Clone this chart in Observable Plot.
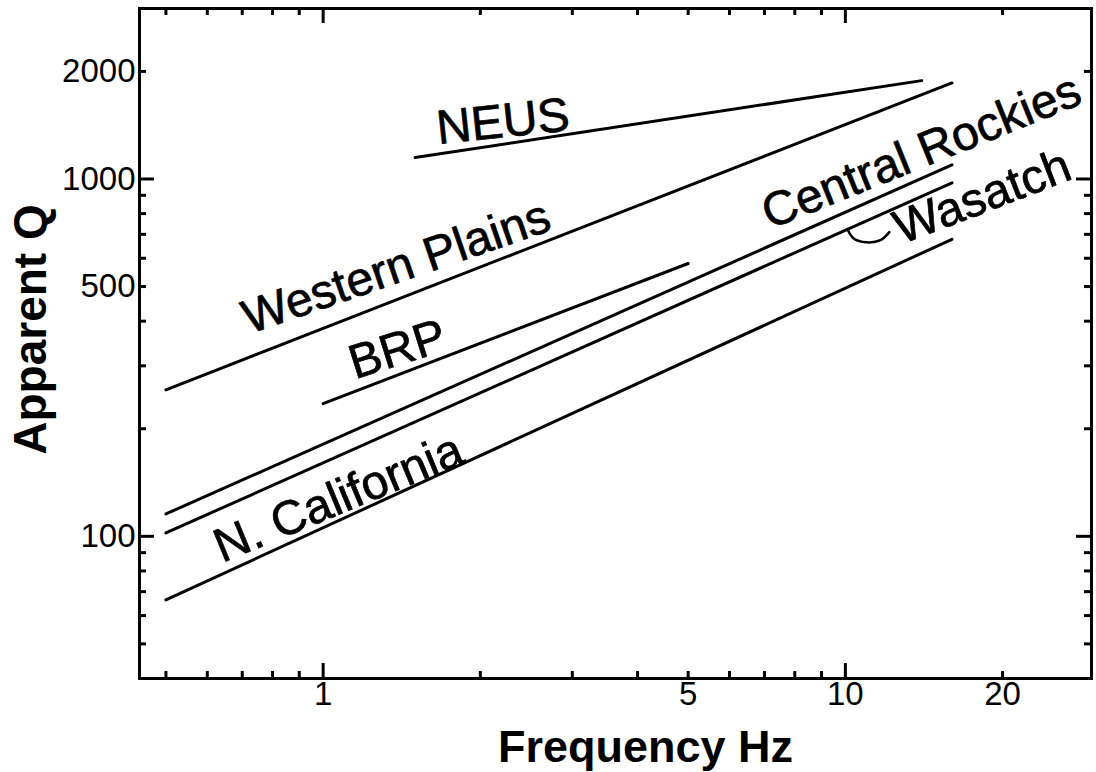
<!DOCTYPE html>
<html>
<head>
<meta charset="utf-8">
<script src="https://cdn.jsdelivr.net/npm/d3@7"></script>
<script src="https://cdn.jsdelivr.net/npm/@observablehq/plot@0.6"></script>
<style>
  html, body { margin: 0; padding: 0; background: #fff; }
  svg { display: block; }
</style>
</head>
<body>
<div id="chart"></div>
<script>
// ---- Data (frequency in Hz, apparent Q) ----
const regions   = ["NEUS", "Western Plains", "BRP", "Central Rockies", "Wasatch", "N. California"];
const freqStart = [1.5,   0.5,   1.0,   0.5,   0.5,   0.5];
const freqEnd   = [14,    16,    5.0,   16,    16,    16];
const qStart    = [1148,  257,   235,   115.5, 102.2, 66.4];
const qEnd      = [1885,  1857,  580,   1095,  976,   678];

// Region label placement (data coordinates) and text angle
const labelFreq  = [2.21, 1.381, 1.388, 13.98, 18.3, 1.07];
const labelQ     = [1446, 566,   333,   1191,  890,  127.8];
const labelAngle = [-6,   -19,   -17.5, -22,   -21,  -22.5];

// Small bracket tying the "Wasatch" label to its line
const bracketFreq = [10.09, 10.36, 10.97, 11.67, 12.14];
const bracketQ    = [724,   683,   665,   674,   710];

// Axes
const xDomain = [0.445, 29.6];
const yDomain = [40, 3000];
const xTickLabels = [1, 5, 10, 20];
const yTickLabels = [100, 500, 1000, 2000];
const xMajor = [1, 10];
const xMinor = [0.5, 0.6, 0.7, 0.8, 0.9, 2, 3, 4, 5, 6, 7, 8, 9, 20];
const yMajor = [100, 1000];
const yMinor = [50, 60, 70, 80, 90, 200, 300, 400, 500, 600, 700, 800, 900, 2000];
const xTitle = "Frequency Hz";
const yTitle = "Apparent Q";

// ---- Build tables ----
const segments = regions.flatMap((r, i) => [
  {region: r, f: freqStart[i], q: qStart[i]},
  {region: r, f: freqEnd[i],   q: qEnd[i]}
]);
const labels = regions.map((r, i) => ({name: r, f: labelFreq[i], q: labelQ[i], angle: labelAngle[i]}));
const bracket = bracketFreq.map((f, i) => ({f, q: bracketQ[i]}));

const W = 1096, H = 772;
const mL = 139, mR = 5, mT = 8, mB = 94;
const fw = W - mL - mR, fh = H - mT - mB;
const majorLen = 15, minorLen = 7;

const chart = Plot.plot({
  width: W,
  height: H,
  marginLeft: mL,
  marginRight: mR,
  marginTop: mT,
  marginBottom: mB,
  style: {fontFamily: "'Liberation Sans', Arial, Helvetica, sans-serif", fontSize: "33px", background: "#fff", color: "#000"},
  x: {type: "log", domain: xDomain, label: null},
  y: {type: "log", domain: yDomain, label: null},
  marks: [
    // tick labels
    Plot.axisX({ticks: xTickLabels, tickSize: 0, tickPadding: 3, fontSize: 33, tickFormat: d3.format("d"), label: null}),
    Plot.axisY({ticks: yTickLabels, tickSize: 0, tickPadding: 4, fontSize: 33, tickFormat: d3.format("d"), label: null}),
    // inward ticks on all four sides
    Plot.tickX(xMajor, {x: d => d, insetTop: fh - majorLen, strokeWidth: 3}),
    Plot.tickX(xMinor, {x: d => d, insetTop: fh - minorLen, strokeWidth: 3}),
    Plot.tickX(xMajor, {x: d => d, insetBottom: fh - majorLen, strokeWidth: 3}),
    Plot.tickX(xMinor, {x: d => d, insetBottom: fh - minorLen, strokeWidth: 3}),
    Plot.tickY(yMajor, {y: d => d, insetRight: fw - majorLen, strokeWidth: 3}),
    Plot.tickY(yMinor, {y: d => d, insetRight: fw - minorLen, strokeWidth: 3}),
    Plot.tickY(yMajor, {y: d => d, insetLeft: fw - majorLen, strokeWidth: 3}),
    Plot.tickY(yMinor, {y: d => d, insetLeft: fw - minorLen, strokeWidth: 3}),
    // Q(f) lines
    Plot.line(segments, {x: "f", y: "q", z: "region", stroke: "#000", strokeWidth: 3}),
    // bracket for Wasatch
    Plot.line(bracket, {x: "f", y: "q", curve: "catmull-rom", stroke: "#000", strokeWidth: 2.5}),
    // region labels
    Plot.text(labels, {x: "f", y: "q", text: "name", rotate: "angle", fontSize: 48, textAnchor: "middle", lineAnchor: "middle", fill: "#000", stroke: "#000", strokeWidth: 0.7}),
    // axis titles
    Plot.text([xTitle], {text: d => d, frameAnchor: "bottom", dx: 30, dy: 69, fontSize: 45, fontWeight: "bold", textAnchor: "middle", lineAnchor: "middle", fill: "#000"}),
    Plot.text([yTitle], {text: d => d, frameAnchor: "left", dx: -108, dy: -14, rotate: -90, fontSize: 46, fontWeight: "bold", textAnchor: "middle", lineAnchor: "middle", fill: "#000"}),
    Plot.frame({stroke: "#000", strokeWidth: 3})
  ]
});
document.getElementById("chart").appendChild(chart);
</script>
</body>
</html>
